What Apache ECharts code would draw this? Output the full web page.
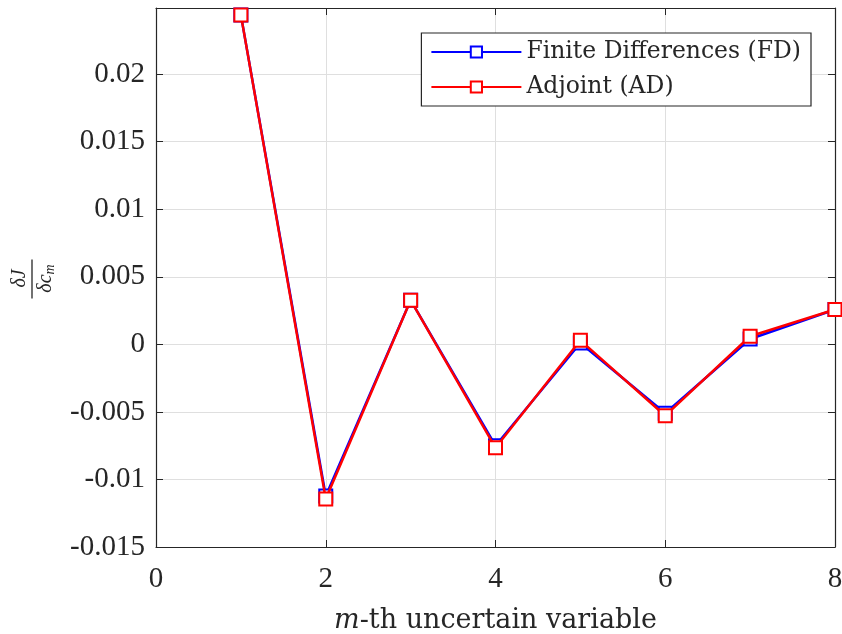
<!DOCTYPE html>
<html>
<head>
<meta charset="utf-8">
<script src="https://cdn.jsdelivr.net/npm/echarts@6/dist/echarts.min.js"></script>
<style>
html, body { margin: 0; padding: 0; background: #fff; }
#main { width: 842px; height: 634px; }
</style>
</head>
<body>
<div id="main"></div>
<script>
var xValues = [1, 2, 3, 4, 5, 6, 7, 8];
var fdValues = [0.02439, -0.01123, 0.00327, -0.00750, 0.00010, -0.00510, 0.00040, 0.00258];
var adValues = [0.02439, -0.01145, 0.00327, -0.00766, 0.00030, -0.00528, 0.00060, 0.00258];
var xTicks = [0, 2, 4, 6, 8];
var yTicks = [-0.015, -0.01, -0.005, 0, 0.005, 0.01, 0.015, 0.02];

var font = 'Liberation Serif';
var wordFont = 'DejaVu Serif';
var myChart = echarts.init(document.getElementById('main'));

function pairs(ys) {
    return xValues.map(function (x, i) { return [x, ys[i]]; });
}

function lineSeries(name, color, ys, z) {
    return {
        name: name,
        type: 'line',
        data: pairs(ys),
        z: z,
        symbol: 'rect',
        symbolSize: 13,
        showAllSymbol: true,
        lineStyle: { color: color, width: 2.5 },
        itemStyle: { color: '#fff', borderColor: color, borderWidth: 2 },
        emphasis: { disabled: true },
        animation: false
    };
}

var option = {
    backgroundColor: '#fff',
    grid: { left: 156, right: 7, top: 8, bottom: 87, show: false, outerBoundsMode: 'none', containLabel: false },
    legend: {
        right: 31,
        top: 33,
        orient: 'vertical',
        backgroundColor: '#fff',
        borderColor: '#262626',
        borderWidth: 1.2,
        borderRadius: 0,
        padding: [7, 10, 7, 9],
        itemGap: 11,
        itemWidth: 90,
        itemHeight: 14,
        textStyle: { fontFamily: wordFont, fontSize: 23.5, color: '#262626', padding: [0, 0, 0, 0] },
        data: ['Finite Differences (FD)', 'Adjoint (AD)']
    },
    xAxis: [{
        type: 'value',
        min: 0,
        max: 8,
        interval: 2,
        name: '{i|m}-th uncertain variable',
        nameLocation: 'middle',
        nameGap: 60,
        nameTextStyle: {
            fontFamily: wordFont, fontSize: 27, color: '#262626',
            rich: { i: { fontFamily: wordFont, fontStyle: 'italic', fontSize: 27, color: '#262626' } }
        },
        axisLine: { show: true, onZero: false, lineStyle: { color: '#262626', width: 1.2 } },
        axisTick: { show: true, inside: true, length: 7, lineStyle: { color: '#262626' } },
        axisLabel: { fontFamily: font, fontSize: 29, color: '#262626', margin: 18 },
        splitLine: { show: true, lineStyle: { color: '#dfdfdf', width: 1 } }
    }, {
        type: 'value',
        position: 'top',
        min: 0,
        max: 8,
        interval: 2,
        axisLine: { show: true, onZero: false, lineStyle: { color: '#262626', width: 1.2 } },
        axisTick: { show: true, inside: true, length: 7, lineStyle: { color: '#262626' } },
        axisLabel: { show: false },
        splitLine: { show: false }
    }],
    yAxis: [{
        type: 'value',
        min: -0.015,
        max: 0.0249,
        interval: 0.005,
        axisLine: { show: true, onZero: false, lineStyle: { color: '#262626', width: 1.2 } },
        axisTick: { show: true, inside: true, length: 7, lineStyle: { color: '#262626' } },
        axisLabel: {
            fontFamily: font, fontSize: 29, color: '#262626', margin: 11, showMaxLabel: false,
            formatter: function (v) {
                var r = Math.round(v * 1000) / 1000;
                return String(r);
            }
        },
        splitLine: { show: true, showMaxLine: false, lineStyle: { color: '#dfdfdf', width: 1 } }
    }, {
        type: 'value',
        position: 'right',
        min: -0.015,
        max: 0.0249,
        interval: 0.005,
        axisLine: { show: true, onZero: false, lineStyle: { color: '#262626', width: 1.2 } },
        axisTick: { show: true, inside: true, length: 7, lineStyle: { color: '#262626' } },
        axisLabel: { show: false },
        splitLine: { show: false }
    }],
    graphic: [{
        type: 'group',
        left: 10,
        top: 257,
        children: [{
            type: 'text',
            x: 10, y: 20,
            rotation: Math.PI / 2,
            style: { text: 'δJ', fontFamily: font, fontStyle: 'italic', fontSize: 20, fill: '#262626', align: 'center', verticalAlign: 'middle' }
        }, {
            type: 'line',
            shape: { x1: 22, y1: 1, x2: 22, y2: 40 },
            style: { stroke: '#262626', lineWidth: 1.3 }
        }, {
            type: 'text',
            x: 36, y: 20,
            rotation: Math.PI / 2,
            style: { text: 'δc{s|m}', fontFamily: font, fontStyle: 'italic', fontSize: 20, fill: '#262626', align: 'center', verticalAlign: 'middle',
                rich: { s: { fontFamily: font, fontStyle: 'italic', fontSize: 14, fill: '#262626', padding: [9, 0, 0, 0] } } }
        }]
    }],
    series: [
        lineSeries('Finite Differences (FD)', '#0000ff', fdValues, 2),
        lineSeries('Adjoint (AD)', '#ff0000', adValues, 3)
    ]
};

myChart.setOption(option);
</script>
</body>
</html>
